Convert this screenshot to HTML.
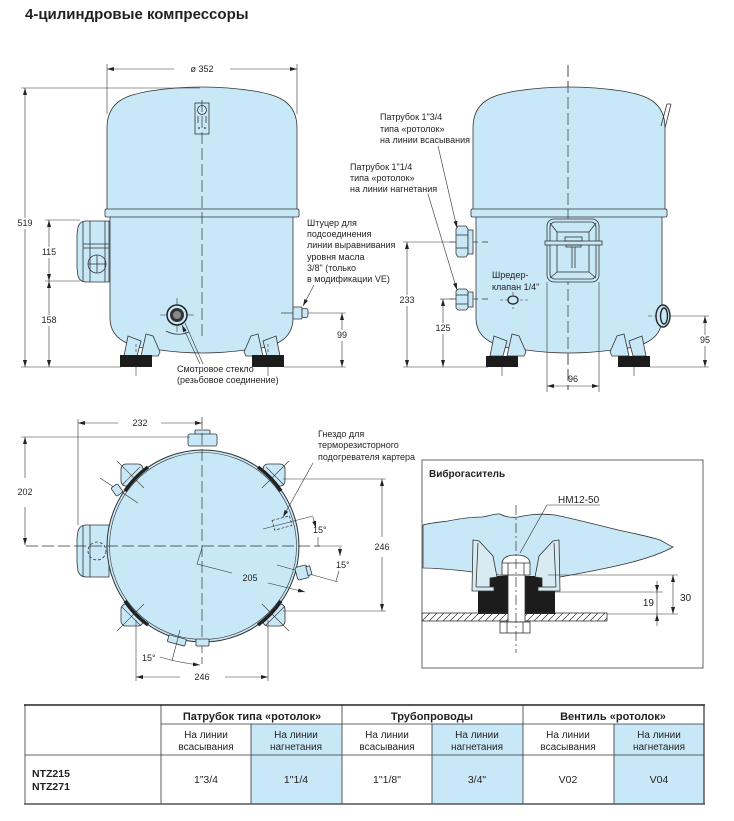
<!DOCTYPE html>
<html><head><meta charset="utf-8">
<style>
html,body{margin:0;padding:0;background:#fff;}
svg{display:block}
text{font-family:"Liberation Sans","DejaVu Sans",sans-serif;fill:#231f20}
.s{fill:#c8e8f8;stroke:#333;stroke-width:.8}
.l{fill:none;stroke:#333;stroke-width:.8}
.d{fill:none;stroke:#333;stroke-width:.6}
.c{fill:none;stroke:#333;stroke-width:.7;stroke-dasharray:12 4}
.f9{font-size:9px}
.m{text-anchor:middle}
.w{fill:#fff}
.k{fill:#1c1c1c}
</style></head><body>
<svg width="734" height="821" viewBox="0 0 734 821" xmlns="http://www.w3.org/2000/svg">
<defs>
<marker id="a" markerWidth="7" markerHeight="4" refX="7" refY="2" orient="auto-start-reverse" markerUnits="userSpaceOnUse"><path d="M0,0 L7,2 L0,4Z" fill="#222"/></marker>
<pattern id="h" width="7" height="7" patternUnits="userSpaceOnUse"><path d="M-1,8 L8,-1" stroke="#333" stroke-width="0.7"/></pattern>
</defs>

<text x="25" y="19" style="font-size:15px;font-weight:bold">4-цилиндровые компрессоры</text>

<!-- ============ LEFT COMPRESSOR (front) ============ -->
<path class="s" d="M107,210 L107,128 C107,100 128,95 150,91 Q202,83 254,91 C276,95 297,100 297,128 L297,210Z"/>
<path class="s" d="M110,216 L110,318 C110,340 130,348 160,350 Q202,356 245,350 C275,348 293,340 293,318 L293,216Z"/>
<rect class="s" x="105" y="209" width="194" height="8" rx="1.5"/>
<!-- feet -->
<path class="s" d="M124,356 L128,336 L141,341 L137,356Z"/>
<path class="s" d="M141,356 L146,334 L153,336 L160,352 L158,356Z"/>
<rect class="k" x="120" y="355" width="32" height="12"/>
<line class="d" x1="136" y1="344" x2="136" y2="352" stroke-dasharray="3 2"/>
<line class="d" x1="136" y1="367" x2="136" y2="376"/>
<path class="s" d="M280,356 L276,336 L263,341 L267,356Z"/>
<path class="s" d="M263,356 L258,334 L251,336 L244,352 L246,356Z"/>
<rect class="k" x="252" y="355" width="32" height="12"/>
<line class="d" x1="268" y1="344" x2="268" y2="352" stroke-dasharray="3 2"/>
<line class="d" x1="268" y1="367" x2="268" y2="376"/>
<!-- lug -->
<rect class="s" x="195" y="103" width="14" height="31"/>
<circle class="l" cx="202" cy="110" r="4.5"/>
<line class="l" x1="198" y1="116" x2="198" y2="123"/>
<line class="l" x1="206" y1="116" x2="206" y2="123"/>
<circle cx="199" cy="128" r=".9" fill="#333"/><circle cx="205" cy="128" r=".9" fill="#333"/>
<line class="c" x1="202" y1="100" x2="202" y2="340"/>
<!-- terminal box -->
<path class="s" d="M86,221 L109,221 L109,282 L86,282 Q80,282 78,276 L77,268 L77,234 L78,227 Q80,221 86,221Z"/>
<line class="l" x1="83" y1="222" x2="83" y2="281"/>
<line class="l" x1="90" y1="221" x2="90" y2="282"/>
<line class="l" x1="105" y1="221" x2="105" y2="282"/>
<line class="l" x1="83" y1="244" x2="109" y2="244"/>
<line class="l" x1="83" y1="248" x2="109" y2="248"/>
<circle class="l" cx="97" cy="264" r="9"/>
<line class="l" x1="88" y1="264" x2="106" y2="264"/>
<line class="l" x1="97" y1="255" x2="97" y2="273"/>
<!-- sight glass -->
<line class="d" x1="160" y1="315" x2="194" y2="315"/>
<line class="d" x1="177" y1="298" x2="177" y2="332"/>
<circle cx="177" cy="315" r="10" fill="#c8e8f8" stroke="#222" stroke-width="1.5"/>
<circle cx="177" cy="315" r="7" fill="#333"/>
<circle cx="177" cy="315" r="4" fill="#888"/>
<path class="l" d="M166,331 Q177,337 189,332"/>
<!-- oil fitting -->
<line class="c" x1="281" y1="313" x2="293" y2="313" stroke-dasharray="4 2"/>
<rect class="s" x="293" y="307" width="9" height="12" rx="1"/>
<rect class="s" x="302" y="308.5" width="6" height="9" rx="2"/>
<!-- dims -->
<line class="d" x1="107" y1="64" x2="107" y2="114"/>
<line class="d" x1="297" y1="64" x2="297" y2="114"/>
<line class="d" x1="174" y1="69" x2="107" y2="69" marker-end="url(#a)"/>
<line class="d" x1="230" y1="69" x2="297" y2="69" marker-end="url(#a)"/>
<text class="f9 m" x="202" y="72">ø 352</text>
<line class="d" x1="21" y1="88" x2="200" y2="88"/>
<line class="d" x1="21" y1="367" x2="121" y2="367"/>
<line class="d" x1="25" y1="88" x2="25" y2="367" marker-start="url(#a)" marker-end="url(#a)"/>
<rect class="w" x="16" y="218" width="18" height="11"/>
<text class="f9 m" x="25" y="226">519</text>
<line class="d" x1="45" y1="220" x2="80" y2="220"/>
<line class="d" x1="45" y1="281" x2="80" y2="281"/>
<line class="d" x1="49" y1="220" x2="49" y2="281" marker-start="url(#a)" marker-end="url(#a)"/>
<line class="d" x1="49" y1="281" x2="49" y2="367" marker-start="url(#a)" marker-end="url(#a)"/>
<rect class="w" x="40" y="247" width="18" height="11"/>
<text class="f9 m" x="49" y="255">115</text>
<rect class="w" x="40" y="315" width="18" height="11"/>
<text class="f9 m" x="49" y="323">158</text>
<line class="d" x1="308" y1="313" x2="346" y2="313"/>
<line class="d" x1="284" y1="367" x2="346" y2="367"/>
<line class="d" x1="342" y1="313" x2="342" y2="367" marker-start="url(#a)" marker-end="url(#a)"/>
<rect class="w" x="335" y="330" width="14" height="11"/>
<text class="f9 m" x="342" y="338">99</text>
<!-- labels -->
<text class="f9" x="307" y="226">Штуцер для</text>
<text class="f9" x="307" y="237">подсоединения</text>
<text class="f9" x="307" y="248">линии выравнивания</text>
<text class="f9" x="307" y="260">уровня масла</text>
<text class="f9" x="307" y="271">3/8" (только</text>
<text class="f9" x="307" y="282">в модификации VE)</text>
<line class="d" x1="314" y1="285" x2="303" y2="306" marker-end="url(#a)"/>
<text class="f9" x="177" y="372">Смотровое стекло</text>
<text class="f9" x="177" y="383">(резьбовое соединение)</text>
<line class="d" x1="200" y1="364" x2="182" y2="325" marker-end="url(#a)"/>
<line class="d" x1="203" y1="364" x2="185" y2="323"/>

<!-- ============ RIGHT COMPRESSOR (side) ============ -->
<line class="c" x1="568" y1="65" x2="568" y2="390"/>
<path class="s" d="M473,210 L473,128 C473,100 494,95 516,91 Q569,83 622,91 C644,95 665,100 665,128 L665,210Z"/>
<path class="s" d="M476,216 L476,318 C476,340 496,348 526,350 Q569,356 612,350 C642,348 662,340 662,318 L662,216Z"/>
<rect class="s" x="471" y="209" width="196" height="8" rx="1.5"/>
<line class="c" x1="568" y1="65" x2="568" y2="390"/>
<path class="l" d="M661,126 L667,104 M665,128 L671,104 M667,104 L671,104"/>
<!-- feet -->
<path class="s" d="M490,356 L494,336 L507,341 L503,356Z"/>
<path class="s" d="M507,356 L512,334 L519,336 L526,352 L524,356Z"/>
<rect class="k" x="486" y="356" width="32" height="11"/>
<line class="d" x1="502" y1="367" x2="502" y2="376"/>
<path class="s" d="M646,356 L642,336 L629,341 L633,356Z"/>
<path class="s" d="M629,356 L624,334 L617,336 L610,352 L612,356Z"/>
<rect class="k" x="618" y="356" width="32" height="11"/>
<line class="d" x1="634" y1="367" x2="634" y2="376"/>
<!-- fittings -->
<line class="c" x1="450" y1="242" x2="488" y2="242" stroke-dasharray="8 3"/>
<path class="s" d="M458,226 L466,226 L468,229 L468,254 L466,257 L458,257 L456,254 L456,229Z"/>
<line class="l" x1="456" y1="235" x2="468" y2="235"/>
<line class="l" x1="456" y1="248" x2="468" y2="248"/>
<rect class="s" x="468" y="230" width="5" height="24"/>
<line class="c" x1="450" y1="299" x2="488" y2="299" stroke-dasharray="8 3"/>
<path class="s" d="M458,289 L466,289 L468,291 L468,308 L466,310 L458,310 L456,308 L456,291Z"/>
<line class="l" x1="456" y1="295" x2="468" y2="295"/>
<line class="l" x1="456" y1="304" x2="468" y2="304"/>
<rect class="s" x="468" y="292" width="5" height="15"/>
<!-- terminal box -->
<rect class="s" x="547" y="219" width="52" height="63" rx="7"/>
<rect class="l" x="550" y="222" width="46" height="57" rx="5"/>
<rect class="l" x="557" y="232" width="32" height="40"/>
<path class="l" d="M550,223 L557,232 M596,223 L589,232 M550,278 L557,272 M596,278 L589,272"/>
<rect class="s" x="545" y="241" width="57" height="4"/>
<rect class="l" x="565" y="237" width="17" height="4"/>
<rect class="l" x="566" y="245" width="15" height="2"/>
<line class="l" x1="572" y1="247" x2="572" y2="268"/>
<line class="l" x1="575" y1="247" x2="575" y2="268"/>
<!-- schrader -->
<line class="d" x1="500" y1="300" x2="530" y2="300" stroke-dasharray="3 2"/>
<line class="d" x1="513" y1="292" x2="513" y2="309" stroke-dasharray="3 2"/>
<ellipse cx="513" cy="300" rx="5" ry="4" fill="#c8e8f8" stroke="#222" stroke-width="1.3"/>
<!-- right sight glass -->
<line class="d" x1="648" y1="316" x2="672" y2="316" stroke-dasharray="4 2"/>
<ellipse cx="663" cy="316" rx="7" ry="11" fill="#c8e8f8" stroke="#222" stroke-width="1.4"/>
<ellipse cx="664" cy="316" rx="3.5" ry="8" fill="none" stroke="#222" stroke-width="1.4"/>
<!-- labels -->
<text class="f9" x="380" y="120">Патрубок 1"3/4</text>
<text class="f9" x="380" y="132">типа «ротолок»</text>
<text class="f9" x="380" y="143">на линии всасывания</text>
<line class="d" x1="438" y1="146" x2="457" y2="228" marker-end="url(#a)"/>
<text class="f9" x="350" y="170">Патрубок 1"1/4</text>
<text class="f9" x="350" y="181">типа «ротолок»</text>
<text class="f9" x="350" y="192">на линии нагнетания</text>
<line class="d" x1="428" y1="194" x2="457" y2="290" marker-end="url(#a)"/>
<text class="f9" x="492" y="278">Шредер-</text>
<text class="f9" x="492" y="290">клапан 1/4"</text>
<!-- dims -->
<line class="d" x1="403" y1="242" x2="452" y2="242"/>
<line class="d" x1="403" y1="367" x2="488" y2="367"/>
<line class="d" x1="407" y1="242" x2="407" y2="367" marker-start="url(#a)" marker-end="url(#a)"/>
<rect class="w" x="398" y="295" width="18" height="11"/>
<text class="f9 m" x="407" y="303">233</text>
<line class="d" x1="440" y1="299" x2="452" y2="299"/>
<line class="d" x1="443" y1="299" x2="443" y2="367" marker-start="url(#a)" marker-end="url(#a)"/>
<rect class="w" x="434" y="323" width="18" height="11"/>
<text class="f9 m" x="443" y="331">125</text>
<line class="d" x1="547" y1="282" x2="547" y2="392"/>
<line class="d" x1="599" y1="282" x2="599" y2="392"/>
<line class="d" x1="547" y1="386" x2="599" y2="386" marker-start="url(#a)" marker-end="url(#a)"/>
<text class="f9 m" x="573" y="382">96</text>
<line class="d" x1="670" y1="316" x2="709" y2="316"/>
<line class="d" x1="650" y1="367" x2="709" y2="367"/>
<line class="d" x1="705" y1="316" x2="705" y2="367" marker-start="url(#a)" marker-end="url(#a)"/>
<rect class="w" x="698" y="335" width="14" height="11"/>
<text class="f9 m" x="705" y="343">95</text>

<!-- ============ TOP VIEW ============ -->
<!-- feet behind -->
<rect class="s" x="121" y="464" width="22" height="22" rx="5"/>
<rect class="s" x="263" y="464" width="22" height="22" rx="5"/>
<rect class="s" x="121" y="604" width="22" height="22" rx="5"/>
<rect class="s" x="263" y="604" width="22" height="22" rx="5"/>
<!-- terminal box -->
<path class="s" d="M86,525 L109,525 L109,577 L86,577 Q80,577 78,571 L77,563 L77,538 L78,531 Q80,525 86,525Z"/>
<line class="l" x1="83" y1="526" x2="83" y2="576"/>
<line class="l" x1="90" y1="525" x2="90" y2="577"/>
<circle class="l" cx="97" cy="551" r="9" stroke-dasharray="3 2"/>
<!-- top fitting -->
<rect class="s" x="195" y="430" width="15" height="5" rx="1"/>
<rect class="s" x="188" y="434" width="29" height="12" rx="2"/>
<!-- circle -->
<circle cx="203" cy="546" r="96" fill="#c8e8f8" stroke="#333" stroke-width="1"/>
<circle cx="203" cy="546" r="93.5" fill="none" stroke="#333" stroke-width=".6"/>
<!-- dark arcs at feet -->
<path d="M125,491 A96,96 0 0,1 148,467" fill="none" stroke="#222" stroke-width="3.5"/>
<path d="M258,467 A96,96 0 0,1 281,491" fill="none" stroke="#222" stroke-width="3.5"/>
<path d="M281,601 A96,96 0 0,1 258,625" fill="none" stroke="#222" stroke-width="3.5"/>
<path d="M148,625 A96,96 0 0,1 125,601" fill="none" stroke="#222" stroke-width="3.5"/>
<!-- X crosses -->
<path class="d" d="M117,461 L144,488 M122,485 L140,467 M289,461 L262,488 M284,485 L266,467 M117,631 L144,604 M122,607 L140,625 M289,631 L262,604 M284,607 L266,625"/>
<!-- small left fitting -->
<line class="d" x1="100" y1="478" x2="138" y2="503"/>
<rect class="s" x="113" y="485" width="8" height="10" rx="1.5" transform="rotate(-35 117 490)"/>
<!-- center lines -->
<line class="c" x1="26" y1="546" x2="320" y2="546"/>
<line class="c" x1="202" y1="417" x2="202" y2="664"/>
<!-- heater socket -->
<line class="d" x1="263" y1="529" x2="313" y2="516"/>
<rect x="273" y="518" width="18" height="10" fill="none" stroke="#333" stroke-width=".7" stroke-dasharray="3 1.5" transform="rotate(-15 282 523)"/>
<line class="d" x1="313" y1="517" x2="316" y2="528" marker-end="url(#a)"/>
<text class="f9" x="313" y="533">15°</text>
<line class="d" x1="318" y1="537" x2="318" y2="546"/>
<line class="d" x1="318" y1="546" x2="342" y2="546"/>
<line class="d" x1="340" y1="547" x2="340" y2="556" marker-end="url(#a)"/>
<text class="f9" x="336" y="568">15°</text>
<line class="d" x1="339" y1="571" x2="336" y2="581"/>
<!-- right fitting -->
<line class="d" x1="277" y1="565" x2="338" y2="582"/>
<line class="d" x1="268" y1="583" x2="305" y2="592" marker-end="url(#a)"/>
<rect class="s" x="296" y="566" width="12" height="13" rx="2" transform="rotate(-15 302 572)"/>
<rect class="s" x="307" y="568" width="4" height="9" transform="rotate(-15 302 572)"/>
<!-- bottom fittings -->
<rect class="s" x="168" y="637" width="18" height="7" rx="1" transform="rotate(15 177 640)"/>
<rect class="s" x="196" y="639" width="13" height="7" rx="1"/>
<line class="d" x1="180" y1="630" x2="172" y2="661"/>
<path class="d" d="M160,657 Q180,663 200,665" marker-end="url(#a)"/>
<text class="f9" x="142" y="661">15°</text>
<!-- radius -->
<path class="d" d="M202,548 L197,564 L232,573"/>
<text class="f9 m" x="250" y="581">205</text>
<!-- dims -->
<line class="d" x1="78" y1="419" x2="78" y2="525"/>
<line class="d" x1="118" y1="423" x2="78" y2="423" marker-end="url(#a)"/>
<line class="d" x1="161" y1="423" x2="202" y2="423" marker-end="url(#a)"/>
<text class="f9 m" x="140" y="426">232</text>
<line class="d" x1="21" y1="437" x2="190" y2="437"/>
<line class="d" x1="25" y1="478" x2="25" y2="437" marker-end="url(#a)"/>
<line class="d" x1="25" y1="507" x2="25" y2="545" marker-end="url(#a)"/>
<text class="f9 m" x="25" y="495">202</text>
<line class="d" x1="283" y1="479" x2="386" y2="479"/>
<line class="d" x1="283" y1="611" x2="386" y2="611"/>
<line class="d" x1="382" y1="537" x2="382" y2="479" marker-end="url(#a)"/>
<line class="d" x1="382" y1="557" x2="382" y2="611" marker-end="url(#a)"/>
<text class="f9 m" x="382" y="550">246</text>
<line class="d" x1="136" y1="620" x2="136" y2="681"/>
<line class="d" x1="268" y1="620" x2="268" y2="681"/>
<line class="d" x1="180" y1="677" x2="136" y2="677" marker-end="url(#a)"/>
<line class="d" x1="225" y1="677" x2="268" y2="677" marker-end="url(#a)"/>
<text class="f9 m" x="202" y="680">246</text>
<text class="f9" x="318" y="437">Гнездо для</text>
<text class="f9" x="318" y="448">терморезисторного</text>
<text class="f9" x="318" y="460">подогревателя картера</text>
<line class="d" x1="313" y1="463" x2="283" y2="517" marker-end="url(#a)"/>

<!-- ============ DAMPER ============ -->
<rect x="422" y="460" width="281" height="208" fill="none" stroke="#555" stroke-width=".9"/>
<text x="429" y="477" style="font-size:10px;font-weight:bold">Виброгаситель</text>
<path class="s" d="M423,525 C430,523 440,522 448,521 C458,519 470,517 482,517 C490,516 496,513 500,514 C505,517 510,518 518,517 C528,515 538,513 555,515 C570,518 590,523 610,528 C630,533 648,536 660,540 C666,543 668,545 673,547 C650,560 610,568 560,577 C530,578 500,576 465,571 C445,569 430,568 423,568 Z"/>
<path class="k" d="M485,576 L548,576 L548,590 L555,590 L555,614 L478,614 L478,590 L485,590 Z"/>
<path d="M473,540 L479,541 L493,556 L497,577 L490,578 L490,587 L494,587 L494,591 L472,591 Z" fill="#d8ebf3" stroke="#333" stroke-width=".8"/>
<line class="l" x1="478" y1="543" x2="476" y2="587"/>
<line class="l" x1="476" y1="587" x2="490" y2="587"/>
<path d="M559,540 L553,541 L539,556 L535,577 L542,578 L542,587 L538,587 L538,591 L560,591 Z" fill="#d8ebf3" stroke="#333" stroke-width=".8"/>
<line class="l" x1="554" y1="543" x2="556" y2="587"/>
<line class="l" x1="556" y1="587" x2="542" y2="587"/>
<rect x="422" y="613" width="185" height="8" fill="url(#h)" stroke="#333" stroke-width=".8"/>
<rect x="508" y="570" width="17" height="52" fill="#fff" stroke="#333" stroke-width=".8"/>
<path d="M502,575 L502,563 Q503,555 516,555 Q529,555 530,563 L530,575 Z" fill="#fff" stroke="#333" stroke-width=".8"/>
<line class="l" x1="502" y1="563" x2="530" y2="563"/>
<line class="l" x1="508" y1="563" x2="508" y2="575"/>
<line class="l" x1="524" y1="563" x2="524" y2="575"/>
<rect x="500" y="622" width="30" height="11" fill="#fff" stroke="#333" stroke-width=".8"/>
<line class="l" x1="507" y1="622" x2="507" y2="633"/>
<line class="l" x1="523" y1="622" x2="523" y2="633"/>
<line x1="516" y1="505" x2="516" y2="653" stroke="#333" stroke-width=".7" stroke-dasharray="10 3 2 3"/>
<text x="558" y="503" style="font-size:10px">HM12-50</text>
<line class="d" x1="547" y1="505" x2="600" y2="505"/>
<line class="d" x1="547" y1="505" x2="520" y2="553"/>
<line class="d" x1="548" y1="575" x2="678" y2="575"/>
<line class="d" x1="555" y1="592" x2="663" y2="592"/>
<line class="d" x1="607" y1="614" x2="678" y2="614"/>
<line class="d" x1="673" y1="575" x2="673" y2="614" marker-start="url(#a)" marker-end="url(#a)"/>
<text x="680" y="601" style="font-size:10px">30</text>
<line class="d" x1="657" y1="581" x2="657" y2="592" marker-end="url(#a)"/>
<line class="d" x1="657" y1="592" x2="657" y2="614"/>
<line class="d" x1="657" y1="626" x2="657" y2="614" marker-end="url(#a)"/>
<text x="654" y="606" style="font-size:10px;text-anchor:end">19</text>

<!-- ============ TABLE ============ -->
<rect x="251" y="724" width="91" height="80" fill="#c8e8f8"/>
<rect x="432" y="724" width="91" height="80" fill="#c8e8f8"/>
<rect x="614" y="724" width="90" height="80" fill="#c8e8f8"/>
<g stroke="#333" stroke-width=".8">
<line x1="161" y1="724" x2="704" y2="724"/>
<line x1="25" y1="755" x2="704" y2="755"/>
<line x1="161" y1="705" x2="161" y2="804"/>
<line x1="342" y1="705" x2="342" y2="804"/>
<line x1="523" y1="705" x2="523" y2="804"/>
<line x1="251" y1="724" x2="251" y2="804"/>
<line x1="432" y1="724" x2="432" y2="804"/>
<line x1="614" y1="724" x2="614" y2="804"/>
<line x1="25" y1="705" x2="25" y2="804"/>
<line x1="704" y1="705" x2="704" y2="804" stroke-width="1.2"/>
</g>
<line x1="24" y1="705" x2="705" y2="705" stroke="#222" stroke-width="1.5"/>
<line x1="24" y1="804" x2="705" y2="804" stroke="#555" stroke-width="1.5"/>
<g style="font-size:11px;font-weight:bold" text-anchor="middle">
<text x="252" y="720">Патрубок типа «ротолок»</text>
<text x="432" y="720">Трубопроводы</text>
<text x="613" y="720">Вентиль «ротолок»</text>
</g>
<g style="font-size:10px" text-anchor="middle">
<text x="206" y="738">На линии</text><text x="206" y="750">всасывания</text>
<text x="296" y="738">На линии</text><text x="296" y="750">нагнетания</text>
<text x="387" y="738">На линии</text><text x="387" y="750">всасывания</text>
<text x="477" y="738">На линии</text><text x="477" y="750">нагнетания</text>
<text x="568" y="738">На линии</text><text x="568" y="750">всасывания</text>
<text x="659" y="738">На линии</text><text x="659" y="750">нагнетания</text>
</g>
<g style="font-size:10.5px" text-anchor="middle">
<text x="206" y="783">1”3/4</text>
<text x="296" y="783">1"1/4</text>
<text x="387" y="783">1"1/8"</text>
<text x="477" y="783">3/4"</text>
<text x="568" y="783">V02</text>
<text x="659" y="783">V04</text>
</g>
<text x="32" y="777" style="font-size:10.5px;font-weight:bold">NTZ215</text>
<text x="32" y="790" style="font-size:10.5px;font-weight:bold">NTZ271</text>
</svg>
</body></html>
